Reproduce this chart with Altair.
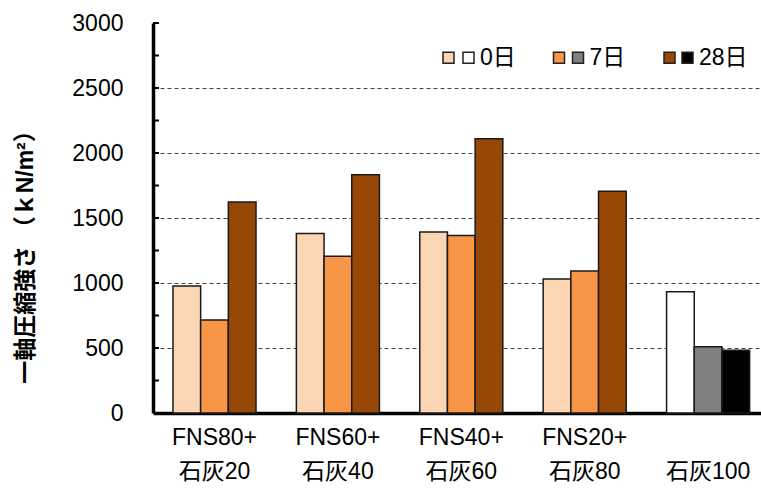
import altair as alt
import pandas as pd

# Mix categories (two-line labels: binder ratio / lime ratio)
GROUPS = ["FNS80+\n石灰20", "FNS60+\n石灰40", "FNS40+\n石灰60", "FNS20+\n石灰80", "\n石灰100"]
AGES = ["0日", "7日", "28日"]

# Unconfined compressive strength (kN/m2) by curing age
STRENGTH_0 = [977, 1381, 1392, 1031, 933]
STRENGTH_7 = [715, 1205, 1366, 1092, 510]
STRENGTH_28 = [1623, 1833, 2110, 1705, 482]

FNS_COLORS = ["#FCD5B5", "#F79646", "#974706"]
LIME_COLORS = ["#FFFFFF", "#808080", "#000000"]

MINOR_TICKS = [250, 500, 750, 1000, 1250, 1500, 1750, 2000, 2250, 2500, 2750, 3000]

FONT = "Liberation Sans, Arial, Noto Sans CJK JP"

rows = []
for age, vals in zip(AGES, [STRENGTH_0, STRENGTH_7, STRENGTH_28]):
    for g, v in zip(GROUPS, vals):
        rows.append({"group": g, "age": age, "value": v, "lime_only": g == GROUPS[-1]})
df = pd.DataFrame(rows)

x_enc = alt.X(
    "group:N",
    sort=GROUPS,
    scale=alt.Scale(domain=GROUPS, paddingInner=0.327, paddingOuter=0.127, align=0.637),
    axis=alt.Axis(
        title=None,
        labelExpr="split(datum.label, '\\n')",
        labelFont=FONT,
        labelFontSize=23,
        labelColor="#000",
        labelAngle=0,
        labelPadding=13,
        labelLineHeight=34,
        ticks=False,
        domainColor="#000",
        domainWidth=3.5,
    ),
)
xoff_enc = alt.XOffset(
    "age:N", sort=AGES, scale=alt.Scale(domain=AGES, paddingInner=0, paddingOuter=0)
)
y_enc = alt.Y(
    "value:Q",
    scale=alt.Scale(domain=[0, 3000], nice=False),
    axis=alt.Axis(
        title="一軸圧縮強さ （ｋN/m²）",
        titleFont=FONT,
        titleFontSize=23,
        titleFontWeight="bold",
        titleColor="#000",
        titleAngle=270,
        titleAlign="center",
        titleBaseline="middle",
        titleX=-128,
        titleY=228,
        values=[0, 500, 1000, 1500, 2000, 2500, 3000],
        format="d",
        labelFont=FONT,
        labelFontSize=23,
        labelColor="#000",
        labelPadding=30,
        ticks=False,
        tickSize=0,
        domainColor="#000",
        domainWidth=3.5,
        grid=True,
        gridColor="#444",
        gridDash=[4, 3],
        gridWidth=1,
        gridOpacity={"condition": {"test": "datum.value > 0 && datum.value < 3000", "value": 1}, "value": 0},
    ),
)

def legend(x, show_labels, col_pad):
    opts = dict(
        orient="none",
        legendX=x,
        legendY=23,
        direction="horizontal",
        title=None,
        symbolType="square",
        symbolSize=121,
        symbolStrokeColor="#222",
        symbolStrokeWidth=1.5,
        symbolOpacity=1,
        labelFont=FONT,
        labelFontSize=23,
        labelColor="#000",
        labelOffset=0,
        columnPadding=col_pad,
        gridAlign="all",
        padding=0,
    )
    if not show_labels:
        # colour swatches only; the text sits with the paired legend
        opts["labelExpr"] = "''"
    return alt.Legend(**opts)

fns_bars = (
    alt.Chart(df)
    .transform_filter("!datum.lime_only")
    .mark_bar(stroke="#1a1a1a", strokeWidth=1.5)
    .encode(
        x=x_enc,
        xOffset=xoff_enc,
        y=y_enc,
        fill=alt.Fill("age:N", sort=AGES,
                      scale=alt.Scale(domain=AGES, range=FNS_COLORS),
                      legend=legend(284, False, 87.5)),
    )
)

lime_bars = (
    alt.Chart(df)
    .transform_filter("datum.lime_only")
    .mark_bar(stroke="#1a1a1a", strokeWidth=1.5)
    .encode(
        x=x_enc,
        xOffset=xoff_enc,
        y=y_enc,
        fill=alt.Fill("age:N", sort=AGES,
                      scale=alt.Scale(domain=AGES, range=LIME_COLORS),
                      legend=legend(304, True, 37.5)),
    )
)

# short inward minor ticks along the value axis
ticks = (
    alt.Chart(pd.DataFrame({"v": MINOR_TICKS}))
    .mark_rule(color="#000", strokeWidth=2)
    .encode(y=alt.Y("v:Q"), x=alt.value(0), x2=alt.value(6))
)

chart = (
    alt.layer(fns_bars, lime_bars, ticks)
    .resolve_scale(fill="independent")
    .properties(
        width=608,
        height=390,
        autosize=alt.AutoSizeParams(type="none"),
        padding={"left": 153, "top": 23, "right": 0, "bottom": 75},
        background="#ffffff",
    )
    .configure_view(stroke=None)
)

chart.save("out.html", embed_options={"renderer": "svg", "actions": False})
